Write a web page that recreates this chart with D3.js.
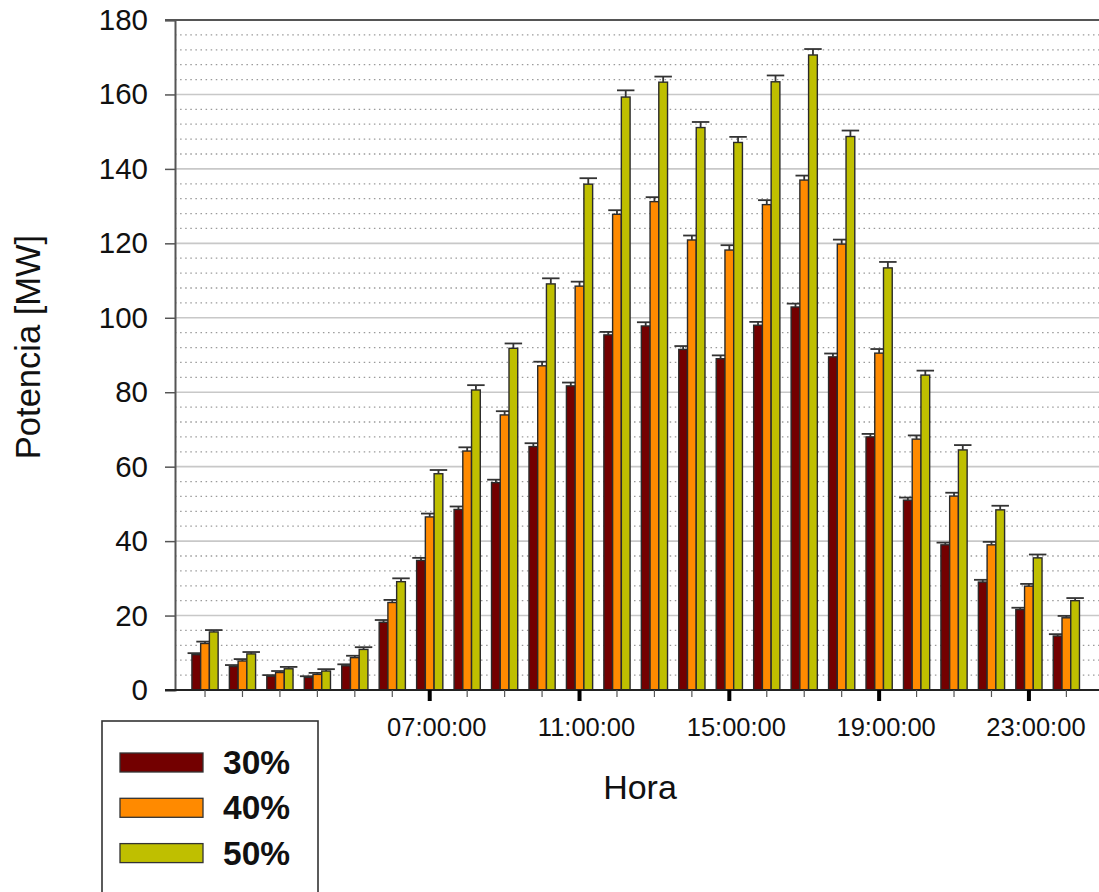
<!DOCTYPE html>
<html>
<head>
<meta charset="utf-8">
<script src="https://cdn.jsdelivr.net/npm/d3@7/dist/d3.min.js"></script>
<style>
  html, body { margin: 0; padding: 0; background: #fff; }
  svg { display: block; font-family: "Liberation Sans", Arial, sans-serif; }
</style>
</head>
<body>
<svg id="chart" width="1099" height="892"></svg>
<script>
// Hourly categories 01:00:00 ... 24:00:00
const hours = ["01:00:00","02:00:00","03:00:00","04:00:00","05:00:00","06:00:00",
  "07:00:00","08:00:00","09:00:00","10:00:00","11:00:00","12:00:00",
  "13:00:00","14:00:00","15:00:00","16:00:00","17:00:00","18:00:00",
  "19:00:00","20:00:00","21:00:00","22:00:00","23:00:00","24:00:00"];
const labeledHours = ["07:00:00","11:00:00","15:00:00","19:00:00","23:00:00"];

const seriesNames = ["30%", "40%", "50%"];
const seriesColors = ["#730000", "#ff8a00", "#bfbf00"];

// Power in MW per hour
const p30 = [9.5, 6.3, 3.7, 3.4, 6.5, 18.2, 34.8, 48.5, 55.7, 65.4, 81.7, 95.4,
             97.8, 91.5, 89.0, 98.0, 102.9, 89.5, 68.0, 51.0, 39.0, 29.0, 21.6, 14.5];
const p40 = [12.5, 7.8, 4.7, 4.2, 8.7, 23.5, 46.5, 64.2, 73.9, 87.1, 108.5, 127.8,
             131.2, 120.9, 118.2, 130.4, 137.0, 119.8, 90.5, 67.4, 52.1, 39.0, 27.9, 19.4];
const p50 = [15.6, 9.7, 5.7, 5.1, 10.9, 29.1, 58.1, 80.6, 91.8, 109.1, 135.9, 159.3,
             163.3, 151.1, 147.1, 163.4, 170.6, 148.7, 113.4, 84.6, 64.5, 48.4, 35.5, 24.0];

// Upper error in MW
const e30 = [0.4, 0.4, 0.3, 0.3, 0.4, 0.6, 0.7, 0.8, 0.8, 0.9, 0.9, 0.8,
             1.0, 0.9, 0.9, 0.9, 0.9, 0.9, 0.8, 0.7, 0.6, 0.6, 0.5, 0.5];
const e40 = [0.5, 0.5, 0.4, 0.4, 0.5, 0.7, 0.9, 1.0, 1.0, 1.1, 1.2, 1.1,
             1.2, 1.2, 1.3, 1.2, 1.2, 1.2, 1.1, 1.0, 0.9, 0.8, 0.6, 0.5];
const e50 = [0.5, 0.5, 0.5, 0.5, 0.6, 0.9, 1.0, 1.3, 1.3, 1.5, 1.6, 1.8,
             1.5, 1.5, 1.5, 1.7, 1.6, 1.6, 1.6, 1.2, 1.3, 1.1, 0.9, 0.7];

const yMajorTicks = [0, 20, 40, 60, 80, 100, 120, 140, 160, 180];

const values = [p30, p40, p50];
const errors = [e30, e40, e50];

const svg = d3.select("#chart");
const W = 1099;
const plot = { left: 175, top: 20, bottom: 690, right: W };

const y = d3.scaleLinear().domain([0, 180]).range([plot.bottom, plot.top]);
const x0 = d3.scaleBand().domain(hours).range([186.3, 1085.1])
  .paddingInner(0.3).paddingOuter(0.15);
const x1 = d3.scaleBand().domain(seriesNames).range([0, x0.bandwidth()]);

// minor dotted grid every 4 MW
const minor = d3.range(4, 180, 4).filter(v => v % 20 !== 0);
svg.append("g").selectAll("line").data(minor).join("line")
  .attr("x1", plot.left).attr("x2", plot.right)
  .attr("y1", d => y(d)).attr("y2", d => y(d))
  .attr("stroke", "#9a9a9a").attr("stroke-width", 1.3)
  .attr("stroke-dasharray", "1.5,3.6");

// major solid grid every 20 MW
svg.append("g").selectAll("line").data(yMajorTicks.filter(v => v > 0 && v < 180)).join("line")
  .attr("x1", plot.left).attr("x2", plot.right)
  .attr("y1", d => y(d)).attr("y2", d => y(d))
  .attr("stroke", "#c8c8c8").attr("stroke-width", 1.6);

// bars and upper error bars, series by series
seriesNames.forEach((name, si) => {
  const g = svg.append("g");
  const bw = x1.bandwidth();
  g.selectAll("rect").data(hours).join("rect")
    .attr("x", (h) => x0(h) + x1(name))
    .attr("y", (h, i) => y(values[si][i]))
    .attr("width", bw)
    .attr("height", (h, i) => y(0) - y(values[si][i]))
    .attr("fill", seriesColors[si])
    .attr("stroke", "#2a2a2a").attr("stroke-width", 1.4);
  const eg = svg.append("g").attr("stroke", "#333").attr("stroke-width", 1.8);
  hours.forEach((h, i) => {
    const cx = x0(h) + x1(name) + bw / 2;
    const top = y(values[si][i] + errors[si][i]);
    eg.append("line").attr("x1", cx).attr("x2", cx)
      .attr("y1", y(values[si][i])).attr("y2", top);
    eg.append("line").attr("x1", cx - bw).attr("x2", cx + bw)
      .attr("y1", top).attr("y2", top);
  });
});

// y axis
const yAxis = d3.axisLeft(y).tickValues(yMajorTicks).tickSize(10).tickPadding(17)
  .tickFormat(d3.format("d"));
const gy = svg.append("g").attr("transform", `translate(${plot.left},0)`).call(yAxis);
gy.select(".domain").attr("stroke", "#555").attr("stroke-width", 2);
gy.selectAll(".tick line").attr("stroke", "#555").attr("stroke-width", 1.5);
gy.selectAll(".tick text").attr("font-size", 29.5).attr("fill", "#111")
  .attr("font-family", "Liberation Sans, Arial, sans-serif");

// top frame line
svg.append("line").attr("x1", 165).attr("x2", plot.right)
  .attr("y1", plot.top).attr("y2", plot.top)
  .attr("stroke", "#555").attr("stroke-width", 2);

// x axis baseline
svg.append("line").attr("x1", 165).attr("x2", plot.right)
  .attr("y1", plot.bottom).attr("y2", plot.bottom)
  .attr("stroke", "#222").attr("stroke-width", 2);

// x ticks: thin at every hour, bold at labelled hours
const xt = svg.append("g");
hours.forEach(h => {
  const cx = x0(h) + x0.bandwidth() / 2;
  const major = labeledHours.includes(h);
  xt.append("line").attr("x1", cx).attr("x2", cx)
    .attr("y1", plot.bottom).attr("y2", plot.bottom + (major ? 11 : 7))
    .attr("stroke", major ? "#000" : "#555").attr("stroke-width", major ? 4 : 1.2);
});
const xAxis = d3.axisBottom(x0).tickValues(labeledHours).tickSize(0).tickPadding(28);
const gx = svg.append("g").attr("transform", `translate(7,${plot.bottom})`).call(xAxis);
gx.select(".domain").remove();
gx.selectAll(".tick text").attr("font-size", 25.5).attr("fill", "#111")
  .attr("font-family", "Liberation Sans, Arial, sans-serif");

// axis titles
svg.append("text").attr("transform", "translate(40,347) rotate(-90)")
  .attr("text-anchor", "middle").attr("font-size", 34.5).attr("fill", "#111")
  .text("Potencia [MW]");
svg.append("text").attr("x", 640).attr("y", 799)
  .attr("text-anchor", "middle").attr("font-size", 34).attr("fill", "#111")
  .text("Hora");

// legend
const lg = svg.append("g");
lg.append("rect").attr("x", 102).attr("y", 721).attr("width", 216).attr("height", 190)
  .attr("fill", "#fff").attr("stroke", "#333").attr("stroke-width", 1.6);
seriesNames.forEach((name, i) => {
  const yy = 753 + i * 45.3;
  lg.append("rect").attr("x", 120).attr("y", yy).attr("width", 83).attr("height", 19)
    .attr("fill", seriesColors[i]).attr("stroke", "#333").attr("stroke-width", 1.3);
  lg.append("text").attr("x", 223).attr("y", yy + 21)
    .attr("font-size", 33.5).attr("font-weight", "bold").attr("fill", "#111")
    .text(name);
});
</script>
</body>
</html>
